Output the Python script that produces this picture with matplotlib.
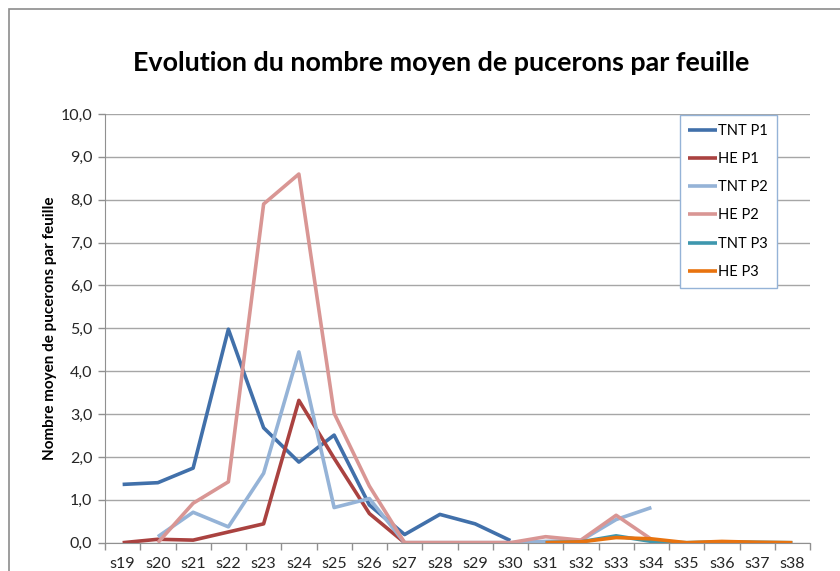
import matplotlib.pyplot as plt
from matplotlib.patches import Rectangle
from matplotlib.ticker import FuncFormatter, FixedLocator
import numpy as np

nan = np.nan
weeks = ['s%d' % i for i in range(19, 39)]

tnt_p1 = [1.36, 1.40, 1.74, 4.98, 2.68, 1.88, 2.51, 0.88, 0.19, 0.66, 0.44, 0.05,
          nan, nan, nan, nan, nan, nan, nan, nan]
he_p1 = [0.0, 0.08, 0.06, 0.25, 0.44, 3.32, 1.97, 0.68, 0.0, 0.0, 0.0, 0.0,
         nan, nan, nan, nan, nan, nan, nan, nan]
tnt_p2 = [nan, 0.14, 0.71, 0.37, 1.62, 4.45, 0.82, 1.03, 0.0, 0.0, 0.0, 0.0,
          0.03, 0.05, 0.54, 0.82, nan, nan, nan, nan]
he_p2 = [nan, 0.0, 0.92, 1.42, 7.90, 8.60, 3.02, 1.32, 0.0, 0.0, 0.0, 0.0,
         0.14, 0.06, 0.64, 0.08, nan, nan, nan, nan]
tnt_p3 = [nan, nan, nan, nan, nan, nan, nan, nan, nan, nan, nan, nan,
          0.0, 0.02, 0.16, 0.03, 0.0, 0.02, 0.01, 0.0]
he_p3 = [nan, nan, nan, nan, nan, nan, nan, nan, nan, nan, nan, nan,
         0.0, 0.02, 0.12, 0.09, 0.0, 0.03, 0.01, 0.0]

series = [('TNT P1', tnt_p1, '#4170AA'),
          ('HE P1', he_p1, '#AA4240'),
          ('TNT P2', tnt_p2, '#95B3D7'),
          ('HE P2', he_p2, '#D99694'),
          ('TNT P3', tnt_p3, '#3E97AE'),
          ('HE P3', he_p3, '#E8730F')]

plt.rcParams['font.family'] = ['Lato', 'DejaVu Sans']

fig = plt.figure(figsize=(8.4, 5.71), dpi=100)
ax = fig.add_axes([105 / 840, 1 - 542.7 / 571, 705 / 840, 428.7 / 571])

x = np.arange(len(weeks))
for name, vals, col in series:
    ax.plot(x, vals, color=col, lw=2.6, label=name, solid_capstyle='butt')

ax.set_xlim(-0.5, len(weeks) - 0.5)
ax.set_ylim(0, 10)
ax.set_yticks(np.arange(0, 11, 1))
ax.yaxis.set_major_formatter(FuncFormatter(lambda v, p: ('%.1f' % v).replace('.', ',')))
ax.set_xticks(x)
ax.set_xticklabels(weeks)
ax.xaxis.set_minor_locator(FixedLocator(np.arange(-0.5, len(weeks), 1)))
ax.tick_params(axis='x', which='major', length=0, pad=10, labelsize=11.5, colors='#262626')
ax.tick_params(axis='x', which='minor', length=5, color='#909090', width=1)
ax.tick_params(axis='y', length=5, color='#909090', width=1, labelsize=11.5,
               labelcolor='#262626', pad=4)

ax.grid(axis='y', color='#A6A6A6', lw=1)
ax.set_axisbelow(True)
for s in ['top', 'right']:
    ax.spines[s].set_visible(False)
ax.spines['left'].set_color('#909090')
ax.spines['bottom'].set_color('#909090')

ax.set_ylabel('Nombre moyen de pucerons par feuille', fontsize=11, fontweight='bold',
              labelpad=3)

fig.text(0.525, 1 - 63 / 571, 'Evolution du nombre moyen de pucerons par feuille',
         ha='center', va='center', fontsize=19.4, fontweight='bold')

leg = ax.legend(loc='upper left', bbox_to_anchor=(0.815, 0.998), fontsize=10.5,
                handlelength=2.0, handletextpad=0.05, labelspacing=0.98,
                borderpad=0.6, fancybox=False, framealpha=1, borderaxespad=0)
leg.get_frame().set_edgecolor('#95B3D7')
leg.get_frame().set_linewidth(1)

fig.patches.append(Rectangle((8.5 / 840, -0.1), 1.0, 1 - 9 / 571 + 0.1,
                             transform=fig.transFigure, fill=False,
                             edgecolor='#8C8C8C', lw=1.2))

fig.savefig('out.png', dpi=100)
